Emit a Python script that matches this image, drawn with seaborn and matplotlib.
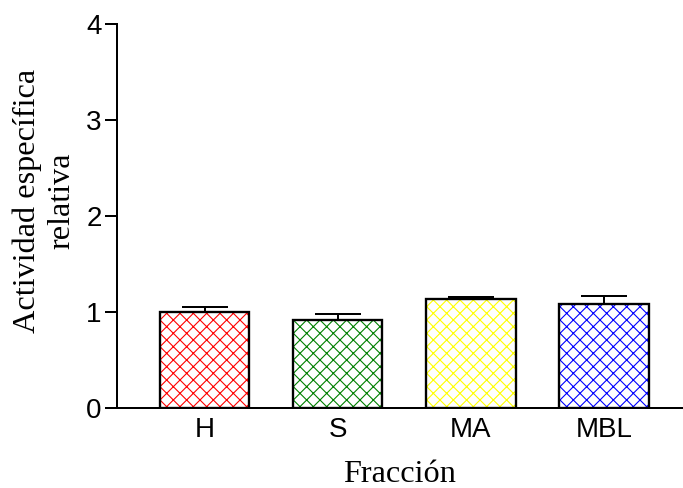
import numpy as np
import pandas as pd
import seaborn as sns
import matplotlib.pyplot as plt

# datos
fracciones = ["H", "S", "MA", "MBL"]
actividad = [1.00, 0.92, 1.13, 1.08]
error_sup = [0.05, 0.06, 0.03, 0.09]
colores = ["#ff0000", "#008000", "#ffff00", "#0000ff"]
yticks = [0, 1, 2, 3, 4]

df = pd.DataFrame({"fraccion": fracciones, "actividad": actividad})

sns.set_style("ticks")
plt.rcParams["hatch.linewidth"] = 1.0
plt.rcParams["text.color"] = "black"
plt.rcParams["axes.labelcolor"] = "black"
plt.rcParams["xtick.color"] = "black"
plt.rcParams["ytick.color"] = "black"

fig, ax = plt.subplots(figsize=(683 / 80, 488 / 80), dpi=80)
fig.subplots_adjust(left=0.171, right=1.0, bottom=0.164, top=0.951)

# capa de tramado coloreado
sns.barplot(
    data=df, x="fraccion", y="actividad",
    hue="fraccion", palette=colores, legend=False,
    width=0.67, errorbar=None, ax=ax,
)
for patch, c in zip(ax.patches, colores):
    patch.set_facecolor("white")
    patch.set_edgecolor(c)
    patch.set_hatch("xx")
    patch.set_linewidth(0)

# contorno negro
n = len(ax.patches)
sns.barplot(
    data=df, x="fraccion", y="actividad",
    color="black", width=0.67, errorbar=None, ax=ax,
)
for patch in ax.patches[n:]:
    patch.set_facecolor("none")
    patch.set_edgecolor("black")
    patch.set_linewidth(2.1)

# solo la barra de error superior
ax.errorbar(
    np.arange(len(fracciones)), actividad,
    yerr=[np.zeros(len(error_sup)), error_sup],
    fmt="none", ecolor="black", elinewidth=1.8,
    capsize=20.7, capthick=1.8, zorder=5,
)

ax.set_xlim(-0.662, 3.594)
ax.set_ylim(0, 4)
ax.set_yticks(yticks)
ax.set_yticklabels([str(t) for t in yticks], family="Liberation Sans", fontsize=25)
ax.set_xticks(range(len(fracciones)))
ax.set_xticklabels(fracciones, family="Liberation Sans", fontsize=25)

ax.tick_params(axis="y", length=10.8, width=1.8, pad=2.7, colors="black")
ax.tick_params(axis="x", length=0, pad=8, colors="black")

for s in ["top", "right"]:
    ax.spines[s].set_visible(False)
for s in ["left", "bottom"]:
    ax.spines[s].set_linewidth(1.8)
    ax.spines[s].set_color("black")

ax.set_xlabel("Fracción", family="Liberation Serif", fontsize=29, labelpad=15)
ax.set_ylabel("Actividad específica\nrelativa", family="Liberation Serif",
              fontsize=29, linespacing=1.25)
ax.yaxis.set_label_coords(-0.072, 0.539)

fig.savefig("out.png", dpi=80)
